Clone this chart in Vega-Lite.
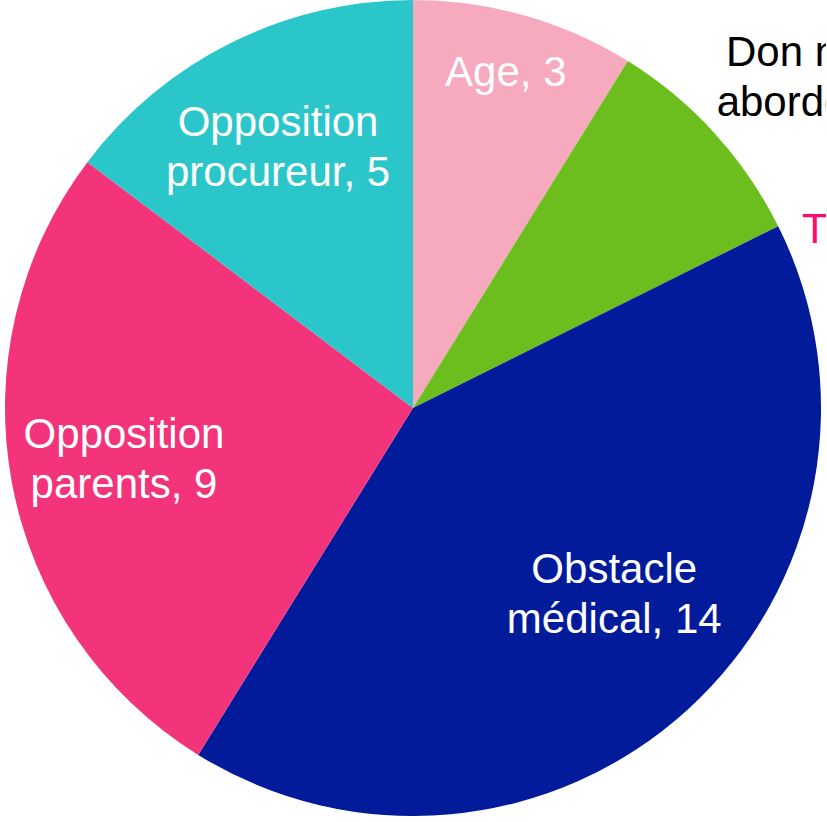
{
  "$schema": "https://vega.github.io/schema/vega-lite/v6.json",
  "width": 826,
  "height": 816,
  "padding": 0,
  "autosize": {"type": "none"},
  "background": "white",
  "config": {"view": {"stroke": null}},
  "data": {
    "values": [
      {"idx": 1, "category": "Age", "value": 3, "label": "Age, 3"},
      {"idx": 2, "category": "Don non abordé", "value": 3, "label": "Don non\nabordé, 3"},
      {"idx": 3, "category": "Trop tard", "value": 0, "label": "Trop tard, 0"},
      {"idx": 4, "category": "Obstacle médical", "value": 14, "label": "Obstacle\nmédical, 14"},
      {"idx": 5, "category": "Opposition parents", "value": 9, "label": "Opposition\nparents, 9"},
      {"idx": 6, "category": "Opposition procureur", "value": 5, "label": "Opposition\nprocureur, 5"}
    ]
  },
  "encoding": {
    "theta": {"field": "value", "type": "quantitative", "stack": true},
    "order": {"field": "idx", "type": "quantitative"}
  },
  "layer": [
    {
      "mark": {"type": "arc", "radius": 408},
      "encoding": {
        "color": {
          "field": "category",
          "type": "nominal",
          "legend": null,
          "scale": {
            "domain": ["Age", "Don non abordé", "Trop tard", "Obstacle médical", "Opposition parents", "Opposition procureur"],
            "range": ["#F7A9BD", "#6CBE1F", "#FF0A6E", "#011B9B", "#F3337A", "#2BC6C9"]
          }
        }
      }
    },
    {
      "mark": {"type": "text", "radius": 350, "dx": -3, "dy": 2, "font": "Liberation Sans", "fontSize": 42, "lineHeight": 50, "color": "white", "lineBreak": "\n"},
      "encoding": {"text": {"condition": {"test": "datum.idx == 1", "field": "label"}, "value": ""}}
    },
    {
      "mark": {"type": "text", "radius": 512, "dx": 14, "dy": -10, "font": "Liberation Sans", "fontSize": 42, "lineHeight": 50, "color": "black", "lineBreak": "\n"},
      "encoding": {"text": {"condition": {"test": "datum.idx == 2", "field": "label"}, "value": ""}}
    },
    {
      "mark": {"type": "text", "radius": 430, "dx": 4, "dy": 14, "align": "left", "font": "Liberation Sans", "fontSize": 42, "lineHeight": 50, "color": "#FF0A6E", "lineBreak": "\n"},
      "encoding": {"text": {"condition": {"test": "datum.idx == 3", "field": "label"}, "value": ""}}
    },
    {
      "mark": {"type": "text", "radius": 272, "dx": 18, "dy": -39, "font": "Liberation Sans", "fontSize": 42, "lineHeight": 50, "color": "white", "lineBreak": "\n"},
      "encoding": {"text": {"condition": {"test": "datum.idx == 4", "field": "label"}, "value": ""}}
    },
    {
      "mark": {"type": "text", "radius": 294, "dy": -27, "font": "Liberation Sans", "fontSize": 42, "lineHeight": 50, "color": "white", "lineBreak": "\n"},
      "encoding": {"text": {"condition": {"test": "datum.idx == 5", "field": "label"}, "value": ""}}
    },
    {
      "mark": {"type": "text", "radius": 296, "dx": -3, "dy": -20, "font": "Liberation Sans", "fontSize": 42, "lineHeight": 50, "color": "white", "lineBreak": "\n"},
      "encoding": {"text": {"condition": {"test": "datum.idx == 6", "field": "label"}, "value": ""}}
    }
  ]
}
